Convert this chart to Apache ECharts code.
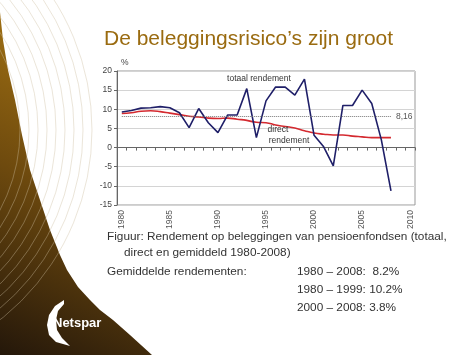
<!DOCTYPE html>
<html>
<head>
<meta charset="utf-8">
<script src="https://cdn.jsdelivr.net/npm/echarts@6/dist/echarts.min.js"></script>
<style>
  html, body { margin: 0; padding: 0; background: #fff; }
  #chart { width: 474px; height: 355px; }
</style>
</head>
<body>
<div id="chart"></div>
<script>
// jaren op de x-as (Excel-stijl, tot 2010)
const years = ['1980', '1981', '1982', '1983', '1984', '1985', '1986', '1987', '1988', '1989',
  '1990', '1991', '1992', '1993', '1994', '1995', '1996', '1997', '1998', '1999',
  '2000', '2001', '2002', '2003', '2004', '2005', '2006', '2007', '2008', '2009', '2010']

// totaal rendement, 1980-2008 (%)
const totaal = [9.3, 9.7, 10.3, 10.4, 10.7, 10.4, 9.1, 5.2, 10.2, 6.5,
  3.9, 8.5, 8.5, 15.4, 2.6, 12.2, 15.8, 15.8, 13.7, 17.9,
  3.2, 0.2, -4.8, 11.0, 11.0, 15.0, 11.5, 2.0, -11.3]

// direct rendement, 1980-2008 (%)
const direct = [8.9, 9.1, 9.5, 9.6, 9.4, 9.0, 8.6, 8.2, 8.0, 7.7,
  7.6, 7.7, 7.4, 7.1, 6.6, 6.5, 5.9, 5.5, 5.1, 4.4,
  3.8, 3.5, 3.3, 3.3, 3.0, 2.8, 2.6, 2.6, 2.6]

const gemiddeld = 8.16
const gemiddeldLabel = '8,16'

const captionLines = [
  'Figuur: Rendement op beleggingen van pensioenfondsen (totaal,',
  'direct en gemiddeld 1980-2008)',
  'Gemiddelde rendementen:'
]
const periodes = ['1980 – 2008:  8.2%', '1980 – 1999: 10.2%', '2000 – 2008: 3.8%']

const font = 'Liberation Sans, Arial, sans-serif'

const chartDom = document.getElementById('chart')
const myChart = echarts.init(chartDom)

// decoratieve bogen links
const arcs = []
for (let i = 0; i < 9; i++) {
  arcs.push({
    type: 'circle',
    silent: true,
    z: 2,
    shape: { cx: -150, cy: 130, r: 170 + i * 9 },
    style: { fill: 'none', stroke: 'rgba(205,190,160,0.5)', lineWidth: 0.8 }
  })
}

function txt (x, y, text, size, color, extra) {
  return {
    type: 'text',
    silent: true,
    z: 6,
    style: Object.assign({
      x, y, text, fill: color,
      font: size + 'px ' + font,
      verticalAlign: 'middle',
      align: 'left'
    }, extra || {})
  }
}

const option = {
  backgroundColor: '#fff',
  animation: false,
  textStyle: { fontFamily: font },
  grid: {
    left: 117,
    right: 59,
    top: 71,
    bottom: 150,
    show: true,
    borderColor: '#999',
    borderWidth: 1
  },
  xAxis: {
    type: 'category',
    data: years,
    boundaryGap: true,
    axisLine: { onZero: true, lineStyle: { color: '#666', width: 1 } },
    axisTick: { show: true, interval: 0, length: 3, lineStyle: { color: '#666' } },
    axisLabel: {
      interval: 4,
      rotate: 90,
      margin: 5,
      color: '#555',
      fontSize: 8.5,
      fontFamily: font
    },
    splitLine: { show: false }
  },
  yAxis: {
    type: 'value',
    min: -15,
    max: 20,
    interval: 5,
    name: '%',
    nameLocation: 'end',
    nameGap: 4,
    nameTextStyle: { color: '#444', fontSize: 8.5, align: 'left', padding: [0, 0, 0, 4] },
    axisLine: { show: true, lineStyle: { color: '#666' } },
    axisTick: { show: true, length: 3, lineStyle: { color: '#666' } },
    axisLabel: { color: '#444', fontSize: 8.5, margin: 5, fontFamily: font },
    splitLine: { show: true, lineStyle: { color: '#d4d4d4', width: 1 } }
  },
  series: [
    {
      name: 'direct rendement',
      type: 'line',
      data: direct,
      smooth: true,
      symbol: 'none',
      lineStyle: { color: '#d42a30', width: 1.6 },
      z: 3
    },
    {
      name: 'totaal rendement',
      type: 'line',
      data: totaal,
      smooth: false,
      symbol: 'none',
      lineStyle: { color: '#1f1f68', width: 1.6 },
      z: 4,
      markLine: {
        silent: true,
        symbol: 'none',
        lineStyle: { color: '#777', type: 'dotted', width: 1 },
        label: {
          show: true,
          position: 'end',
          formatter: gemiddeldLabel,
          color: '#555',
          fontSize: 8.5,
          distance: 5
        },
        data: [[{ coord: [years[0], gemiddeld] }, { coord: [years[totaal.length - 1], gemiddeld] }]]
      }
    }
  ],
  graphic: [
    ...arcs,
    {
      type: 'polygon',
      silent: true,
      z: 1,
      shape: {
        points: [[0, 0], [0, 12], [3, 40], [8, 70], [15, 100], [22, 135], [30, 170], [40, 200],
          [50, 230], [60, 255], [67, 270], [78, 287], [90, 300], [100, 310], [113, 320],
          [130, 335], [152, 355], [0, 355]]
      },
      style: {
        fill: {
          type: 'linear', x: 0, y: 1, x2: 0.9, y2: 0.2,
          colorStops: [
            { offset: 0, color: '#24170a' },
            { offset: 0.55, color: '#6e4a0e' },
            { offset: 1, color: '#a07012' }
          ]
        }
      }
    },
    {
      type: 'polygon',
      silent: true,
      z: 5,
      shape: {
        points: [[64, 300], [55, 306], [49, 315], [47, 325], [49, 335], [56, 342], [70, 346],
          [62, 338], [57, 330], [56, 320], [58, 311], [64, 304]]
      },
      style: { fill: '#fff' }
    },
    txt(53, 323, 'Netspar', 13, '#fff', { font: 'bold 13px ' + font }),
    txt(104, 39, 'De beleggingsrisico’s zijn groot', 21, '#9a6b10'),
    txt(259, 79, 'totaal rendement', 8.5, '#333', { align: 'center' }),
    txt(278, 130, 'direct', 8.5, '#333', { align: 'center' }),
    txt(289, 141, 'rendement', 8.5, '#333', { align: 'center' }),
    txt(107, 237, captionLines[0], 11.8, '#333'),
    txt(124, 253, captionLines[1], 11.8, '#333'),
    txt(107, 272, captionLines[2], 11.8, '#333'),
    txt(297, 272, periodes[0], 11.8, '#333'),
    txt(297, 290, periodes[1], 11.8, '#333'),
    txt(297, 308, periodes[2], 11.8, '#333')
  ]
}

myChart.setOption(option)
</script>
</body>
</html>
